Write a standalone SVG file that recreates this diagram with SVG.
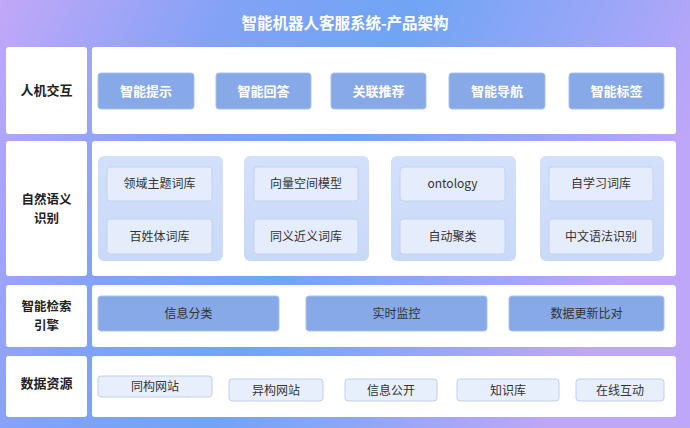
<svg xmlns="http://www.w3.org/2000/svg" width="690" height="428" viewBox="0 0 690 428">
<defs>
<linearGradient id="bg" x1="0" y1="0" x2="1" y2="0.3">
<stop offset="0" stop-color="#c2a8f8"/>
<stop offset="0.3" stop-color="#84a2f6"/>
<stop offset="0.55" stop-color="#6fa5f4"/>
<stop offset="0.8" stop-color="#98a6f8"/>
<stop offset="1" stop-color="#bea6f8"/>
</linearGradient>
<linearGradient id="grp" x1="0" y1="0" x2="0" y2="1">
<stop offset="0" stop-color="#d3e0fb"/>
<stop offset="1" stop-color="#c9d9f8"/>
</linearGradient>
</defs>
<style>
.panel{fill:#ffffff;}
.lbl{font-family:"Noto Sans CJK SC","Noto Sans",sans-serif;font-size:13px;font-weight:bold;fill:#222;text-anchor:middle;}
.lbl2{font-family:"Noto Sans CJK SC","Noto Sans",sans-serif;font-size:12.5px;font-weight:bold;fill:#222;text-anchor:middle;}
.title{font-family:"Noto Sans CJK SC","Noto Sans",sans-serif;font-size:15.5px;font-weight:bold;fill:#ffffff;text-anchor:middle;}
.btn{fill:#87a9e7;stroke:#a9c1ee;stroke-width:1;}
.btnt{font-family:"Noto Sans CJK SC","Noto Sans",sans-serif;font-size:13px;font-weight:bold;fill:#ffffff;text-anchor:middle;}
.grp{fill:url(#grp);}
.inner{fill:#e5edfc;stroke:#c3d2ef;stroke-width:1;}
.t{font-family:"Noto Sans CJK SC","Noto Sans",sans-serif;font-size:12px;fill:#333;text-anchor:middle;}
.src{fill:#e8effc;stroke:#c2cfe8;stroke-width:1;}
</style>
<rect x="0" y="0" width="690" height="428" fill="url(#bg)"/>
<text class="title" x="345" y="29">智能机器人客服系统-产品架构</text>

<g id="row1">
<rect class="panel" x="6" y="47" width="81" height="87" rx="3"/>
<text class="lbl" x="46.5" y="95">人机交互</text>
<rect class="panel" x="92" y="47" width="584" height="87" rx="3"/>
<g id="n-zhinengtishi"><rect class="btn" x="98" y="73" width="96" height="36" rx="3"/><text class="btnt" x="146" y="96">智能提示</text></g>
<g id="n-zhinenghuida"><rect class="btn" x="216" y="73" width="95" height="36" rx="3"/><text class="btnt" x="263.5" y="96">智能回答</text></g>
<g id="n-guanliantuijian"><rect class="btn" x="331" y="73" width="95" height="36" rx="3"/><text class="btnt" x="378.5" y="96">关联推荐</text></g>
<g id="n-zhinengdaohang"><rect class="btn" x="449" y="73" width="96" height="36" rx="3"/><text class="btnt" x="497" y="96">智能导航</text></g>
<g id="n-zhinengbiaoqian"><rect class="btn" x="569" y="73" width="95" height="36" rx="3"/><text class="btnt" x="616.5" y="96">智能标签</text></g>
</g>

<g id="row2">
<rect class="panel" x="6" y="141" width="81" height="135" rx="3"/>
<text class="lbl2" x="46.5" y="204">自然语义</text>
<text class="lbl2" x="46.5" y="222.5">识别</text>
<rect class="panel" x="92" y="141" width="584" height="135" rx="3"/>
<g id="g1">
<rect class="grp" x="98" y="156" width="125" height="105" rx="6"/>
<rect class="inner" x="107" y="167" width="105" height="34" rx="3"/><text class="t" x="159.5" y="188">领域主题词库</text>
<rect class="inner" x="107" y="219" width="105" height="35" rx="3"/><text class="t" x="159.5" y="241">百姓体词库</text>
</g>
<g id="g2">
<rect class="grp" x="244" y="156" width="125" height="105" rx="6"/>
<rect class="inner" x="254" y="167" width="104" height="34" rx="3"/><text class="t" x="306" y="188">向量空间模型</text>
<rect class="inner" x="254" y="219" width="104" height="35" rx="3"/><text class="t" x="306" y="241">同义近义词库</text>
</g>
<g id="g3">
<rect class="grp" x="391" y="156" width="125" height="105" rx="6"/>
<rect class="inner" x="400" y="167" width="105" height="34" rx="3"/><text class="t" x="452.5" y="188">ontology</text>
<rect class="inner" x="400" y="219" width="105" height="35" rx="3"/><text class="t" x="452.5" y="241">自动聚类</text>
</g>
<g id="g4">
<rect class="grp" x="540" y="156" width="124" height="105" rx="6"/>
<rect class="inner" x="549" y="167" width="104" height="34" rx="3"/><text class="t" x="601" y="188">自学习词库</text>
<rect class="inner" x="549" y="219" width="104" height="35" rx="3"/><text class="t" x="601" y="241">中文语法识别</text>
</g>
</g>

<g id="row3">
<rect class="panel" x="6" y="285" width="81" height="62" rx="3"/>
<text class="lbl2" x="46.5" y="311">智能检索</text>
<text class="lbl2" x="46.5" y="329.5">引擎</text>
<rect class="panel" x="92" y="285" width="584" height="62" rx="3"/>
<g id="n-xinxifenlei"><rect class="btn" x="98" y="296" width="181" height="35" rx="3"/><text class="t" x="188.5" y="318">信息分类</text></g>
<g id="n-shishijiankong"><rect class="btn" x="306" y="296" width="181" height="35" rx="3"/><text class="t" x="396.5" y="318">实时监控</text></g>
<g id="n-shujugengxin"><rect class="btn" x="509" y="296" width="155" height="35" rx="3"/><text class="t" x="586.5" y="318">数据更新比对</text></g>
</g>

<g id="row4">
<rect class="panel" x="6" y="356" width="81" height="61" rx="3"/>
<text class="lbl" x="46.5" y="388">数据资源</text>
<rect class="panel" x="92" y="356" width="584" height="61" rx="3"/>
<g id="n-tonggou"><rect class="src" x="98" y="376" width="114" height="21" rx="3"/><text class="t" x="155" y="391">同构网站</text></g>
<g id="n-yigou"><rect class="src" x="229" y="379" width="94" height="22" rx="3"/><text class="t" x="276" y="395">异构网站</text></g>
<g id="n-xinxigongkai"><rect class="src" x="345" y="379" width="92" height="22" rx="3"/><text class="t" x="391" y="395">信息公开</text></g>
<g id="n-zhishiku"><rect class="src" x="457" y="379" width="102" height="22" rx="3"/><text class="t" x="508" y="395">知识库</text></g>
<g id="n-zaixian"><rect class="src" x="576" y="379" width="88" height="22" rx="3"/><text class="t" x="620" y="395">在线互动</text></g>
</g>
<g id="connectors"/>
</svg>
